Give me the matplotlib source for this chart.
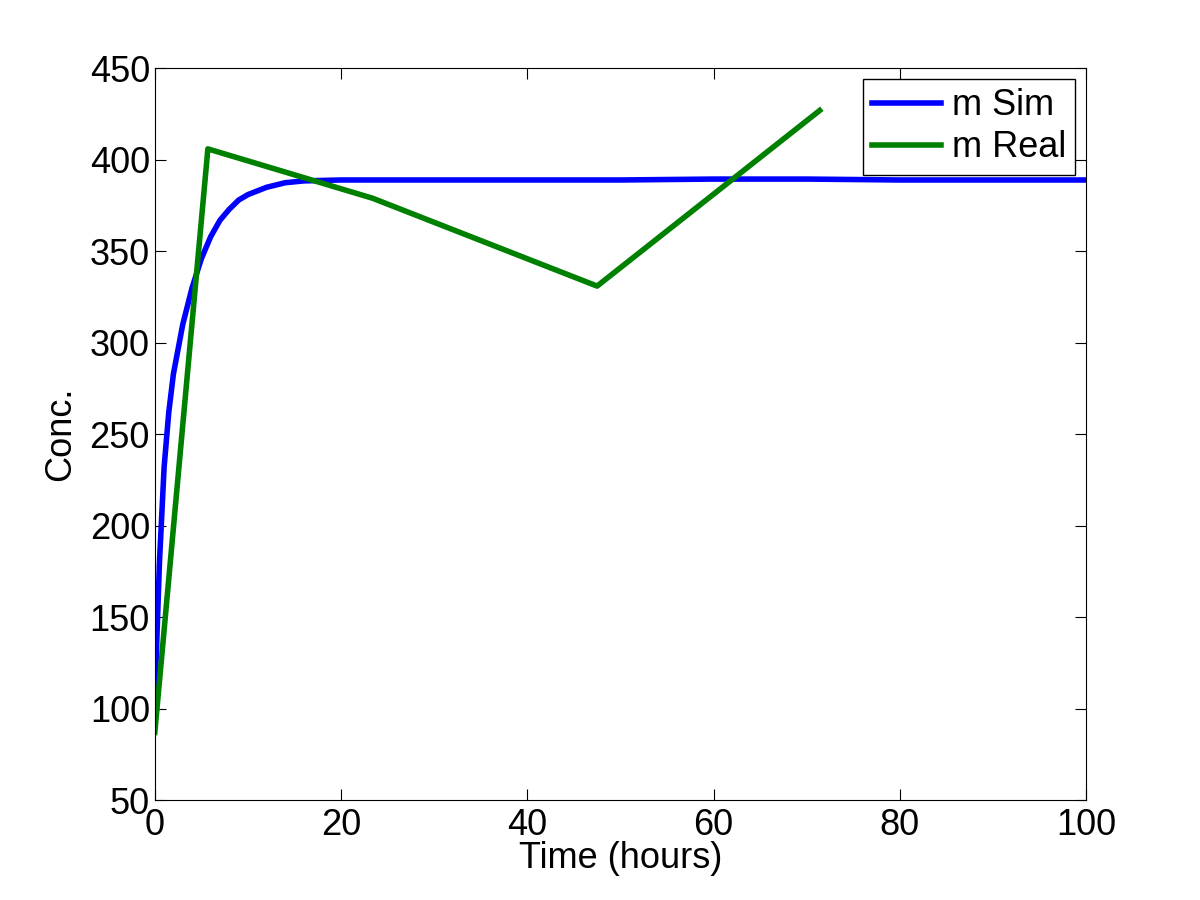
import matplotlib
matplotlib.use("Agg")
import matplotlib.pyplot as plt

plt.rcParams['font.family'] = ['Liberation Sans', 'DejaVu Sans']

sim_t = [0, 0.5, 1, 1.5, 2, 3, 4, 5, 6, 7, 8, 9, 10, 12, 14, 16, 20, 30, 40, 50, 60, 65, 70, 80, 90, 100]
sim_y = [105, 180, 232, 262, 283, 310, 330, 346, 358, 367, 373, 378, 381, 385, 387.5, 388.5, 389, 389, 389, 389, 389.5, 389.5, 389.5, 389, 389, 389]
real_t = [0, 5.7, 23.4, 47.5, 71.4]
real_y = [87, 406, 379, 331, 427]

fig = plt.figure(figsize=(12, 9), dpi=100)
ax = fig.add_axes([0.129, 0.111, 0.776, 0.813])
ax.plot(sim_t, sim_y, color=(0, 0, 1), lw=4, label="m Sim")
ax.plot(real_t, real_y, color=(0, 0.5, 0), lw=4, label="m Real")
ax.set_xlim(0, 100)
ax.set_ylim(50, 450)
ax.set_xticks(range(0, 101, 20))
ax.set_yticks(range(50, 451, 50))
ax.tick_params(labelsize=26, direction="in", top=True, right=True, length=8)
ax.tick_params(axis='x', pad=6)
ax.set_xlabel("Time (hours)", fontsize=26, labelpad=-2)
ax.set_ylabel("Conc.", fontsize=26, labelpad=8)
leg = ax.legend(loc="upper right", fontsize=26, fancybox=False, edgecolor="black",
                handlelength=1.9, handletextpad=0.3, borderaxespad=0.3, borderpad=0.25,
                labelspacing=0.2, framealpha=1)
leg.get_frame().set_linewidth(1)
fig.savefig("out.png")
